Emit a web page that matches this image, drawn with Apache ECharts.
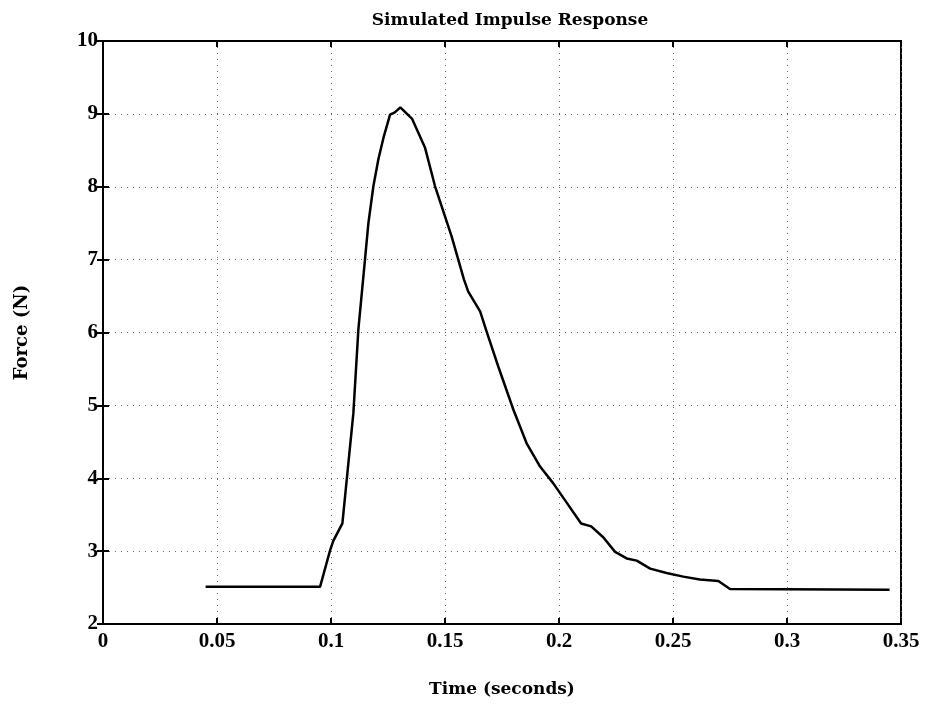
<!DOCTYPE html>
<html>
<head>
<meta charset="utf-8">
<script src="https://cdn.jsdelivr.net/npm/echarts@6/dist/echarts.min.js"></script>
<style>
html,body{margin:0;padding:0;background:#fff;}
#chart{width:925px;height:708px;}
</style>
</head>
<body>
<div id="chart"></div>
<script>
// Data
const timeValues = [0.045, 0.0952, 0.0996, 0.101, 0.105, 0.1076, 0.1098, 0.112, 0.1149, 0.1164, 0.1186, 0.1208, 0.123, 0.1259, 0.128, 0.1304, 0.1356, 0.1412, 0.1456, 0.1529, 0.1583, 0.1602, 0.1654, 0.1683, 0.1734, 0.18, 0.1858, 0.1917, 0.1975, 0.2026, 0.2097, 0.2141, 0.2194, 0.2246, 0.2297, 0.2341, 0.24, 0.2472, 0.2545, 0.2618, 0.2699, 0.275, 0.345];
const forceValues = [2.51, 2.51, 3.01, 3.14, 3.38, 4.20, 4.89, 6.04, 7.00, 7.50, 8.01, 8.38, 8.67, 8.99, 9.02, 9.09, 8.93, 8.54, 8.01, 7.32, 6.73, 6.56, 6.29, 6.01, 5.53, 4.94, 4.48, 4.16, 3.93, 3.70, 3.38, 3.34, 3.19, 2.99, 2.90, 2.87, 2.76, 2.70, 2.65, 2.61, 2.59, 2.48, 2.47];
const xTicks = [0, 0.05, 0.1, 0.15, 0.2, 0.25, 0.3, 0.35];
const yTicks = [2, 3, 4, 5, 6, 7, 8, 9, 10];
const titleText = 'Simulated Impulse Response';
const xLabel = 'Time (seconds)';
const yLabel = 'Force (N)';

const serif = '"Liberation Serif", "DejaVu Serif", serif';
const wideSerif = '"DejaVu Serif", "Liberation Serif", serif';
const points = timeValues.map((t, i) => [t, forceValues[i]]);

const chart = echarts.init(document.getElementById('chart'), null, {renderer: 'canvas'});
const gridLine = {show: true, lineStyle: {color: '#666', width: 1, type: [1, 5]}};
const tickLabel = {color: '#000', fontFamily: serif, fontWeight: 'bold', fontSize: 21};
chart.setOption({
  animation: false,
  backgroundColor: '#fff',
  title: {
    text: titleText, left: 505, textAlign: 'center', top: 7,
    textStyle: {fontFamily: wideSerif, fontWeight: 'bold', fontSize: 17, color: '#000'}
  },
  grid: {left: 103, right: 24, top: 41, bottom: 84, show: true, borderColor: '#000', borderWidth: 2, backgroundColor: 'transparent'},
  xAxis: [{
    type: 'value', min: 0, max: 0.35, interval: 0.05,
    name: xLabel, nameLocation: 'middle', nameGap: 57,
    nameTextStyle: {fontFamily: wideSerif, fontWeight: 'bold', fontSize: 17, color: '#000'},
    axisLine: {show: true, lineStyle: {color: '#000', width: 2}},
    axisTick: {show: true, inside: true, length: 6, lineStyle: {color: '#000', width: 2}},
    axisLabel: Object.assign({margin: 7, formatter: v => String(+v.toFixed(2))}, tickLabel),
    splitLine: gridLine
  }, {
    type: 'value', min: 0, max: 0.35, interval: 0.05, position: 'top',
    axisLine: {show: true, lineStyle: {color: '#000', width: 2}},
    axisTick: {show: true, inside: true, length: 6, lineStyle: {color: '#000', width: 2}},
    axisLabel: {show: false}, splitLine: {show: false}
  }],
  yAxis: [{
    type: 'value', min: 2, max: 10, interval: 1,
    name: yLabel, nameLocation: 'middle', nameGap: 72, nameRotate: 90,
    nameTextStyle: {fontFamily: wideSerif, fontWeight: 'bold', fontSize: 18, color: '#000'},
    axisLine: {show: true, lineStyle: {color: '#000', width: 2}},
    axisTick: {show: true, inside: true, length: 6, lineStyle: {color: '#000', width: 2}},
    axisLabel: Object.assign({margin: 5}, tickLabel),
    splitLine: gridLine
  }, {
    type: 'value', min: 2, max: 10, interval: 1, position: 'right',
    axisLine: {show: true, lineStyle: {color: '#000', width: 2}},
    axisTick: {show: true, inside: true, length: 6, lineStyle: {color: '#000', width: 2}},
    axisLabel: {show: false}, splitLine: {show: false}
  }],
  series: [{
    type: 'line', data: points, xAxisIndex: 0, yAxisIndex: 0,
    symbol: 'none', smooth: false,
    lineStyle: {color: '#000', width: 2.5}
  }]
});
</script>
</body>
</html>
